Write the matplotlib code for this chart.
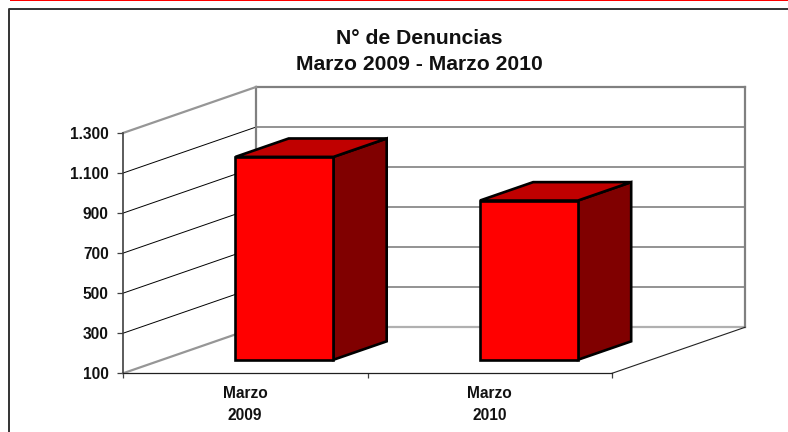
import matplotlib
matplotlib.use("Agg")
import matplotlib.pyplot as plt
from matplotlib.patches import Polygon, Rectangle
from matplotlib.lines import Line2D

plt.rcParams['font.family'] = ['Liberation Sans', 'DejaVu Sans']

categories = ["Marzo\n2009", "Marzo\n2010"]
denuncias = [1113, 895]
y_ticks = [100, 300, 500, 700, 900, 1100, 1300]
y_labels = ["100", "300", "500", "700", "900", "1.100", "1.300"]
title = "N° de Denuncias\nMarzo 2009 - Marzo 2010"

W, H = 788, 432
fig = plt.figure(figsize=(W / 100, H / 100), dpi=100, facecolor="white")
# front plane of the 3-D box
L, R, B, T = 123, 612, 373.3, 133
ax = fig.add_axes([L / W, 1 - B / H, (R - L) / W, (B - T) / H])
ax.set_xlim(0, 2)
ax.set_ylim(100, 1300)
ax.patch.set_visible(False)
for s in ax.spines.values():
    s.set_visible(False)

# depth of the box expressed in data units per unit depth
DX = 133 / (R - L) * 2
DY = 46 / (B - T) * 1200


def P(x, y, d=0.0):
    return (x + DX * d, y + DY * d)


def line(p, q, color, lw, z=2):
    ax.plot([p[0], q[0]], [p[1], q[1]], color=color, lw=lw, zorder=z,
            clip_on=False, solid_capstyle="projecting")


GREY = "#808080"
LIGHT = "#b0b0b0"
y0, y1 = y_ticks[0], y_ticks[-1]

# back wall and side wall gridlines
for v in y_ticks[1:-1]:
    line(P(0, v, 1), P(2, v, 1), GREY, 1.2)
    line(P(0, v), P(0, v, 1), "black", 0.7)
line(P(0, y1, 1), P(2, y1, 1), GREY, 1.6)
line(P(0, y0, 1), P(2, y0, 1), LIGHT, 1.6)
line(P(0, y0, 1), P(0, y1, 1), GREY, 1.6)
line(P(2, y0, 1), P(2, y1, 1), GREY, 1.6)
line(P(0, y1), P(0, y1, 1), "#969696", 1.6)
line(P(0, y0), P(0, y0, 1), "#969696", 1.6)
line(P(2, y0), P(2, y0, 1), "#222222", 0.8)

# front axes
line((0, y0), (0, y1), "#404040", 1.2, z=3)
line((0, y0), (2, y0), "#202020", 0.9, z=3)

# bars: 3-D boxes
BAR_W = 98 / (R - L) * 2
BAR_D0, BAR_D1 = 0.295, 0.695
for i, v in enumerate(denuncias):
    x0 = i + 0.5 - BAR_W / 2
    x1 = x0 + BAR_W
    a, b = BAR_D0, BAR_D1
    base = y0
    front = [P(x0, base, a), P(x1, base, a), P(x1, v, a), P(x0, v, a)]
    side = [P(x1, base, a), P(x1, base, b), P(x1, v, b), P(x1, v, a)]
    top = [P(x0, v, a), P(x1, v, a), P(x1, v, b), P(x0, v, b)]
    ax.add_patch(Polygon(side, closed=True, fc="#800000", ec="black", lw=1.9,
                         joinstyle="miter", zorder=5, clip_on=False))
    ax.add_patch(Polygon(top, closed=True, fc="#C00000", ec="black", lw=1.9,
                         joinstyle="miter", zorder=5, clip_on=False))
    ax.add_patch(Polygon(front, closed=True, fc="#FF0000", ec="black", lw=1.9,
                         joinstyle="miter", zorder=6, clip_on=False))

# ticks and labels
ax.set_yticks(y_ticks)
ax.set_yticklabels(y_labels, fontsize=11.2, fontweight="bold", color="#111111")
ax.set_xticks([0, 1, 2])
ax.set_xticklabels([])
ax.set_xticks([0.5, 1.5], minor=True)
ax.set_xticklabels(categories, minor=True, fontsize=11.2, fontweight="bold",
                   color="#111111", linespacing=1.55)
ax.tick_params(axis="y", length=4.2, width=0.9, color="#404040", pad=6)
ax.tick_params(axis="x", which="major", length=3.8, width=0.9, color="#404040")
ax.tick_params(axis="x", which="minor", length=0, pad=9.5)

# chart frame and red rule at the top of the page
fig.add_artist(Line2D([9 / W, 9 / W, 1], [0, 1 - 9 / H, 1 - 9 / H],
                      color="#333333", lw=1.4, transform=fig.transFigure))
fig.add_artist(Rectangle((10 / W, 1 - 1 / H), 1 - 10 / W, 1 / H, fc="#FF0000",
                         ec="none", transform=fig.transFigure))

fig.text(419.5 / W, 1 - 29 / H, title, ha="center", va="top", fontsize=15.2,
         fontweight="bold", color="#111111", linespacing=1.5)

fig.savefig("out.png", dpi=100)
